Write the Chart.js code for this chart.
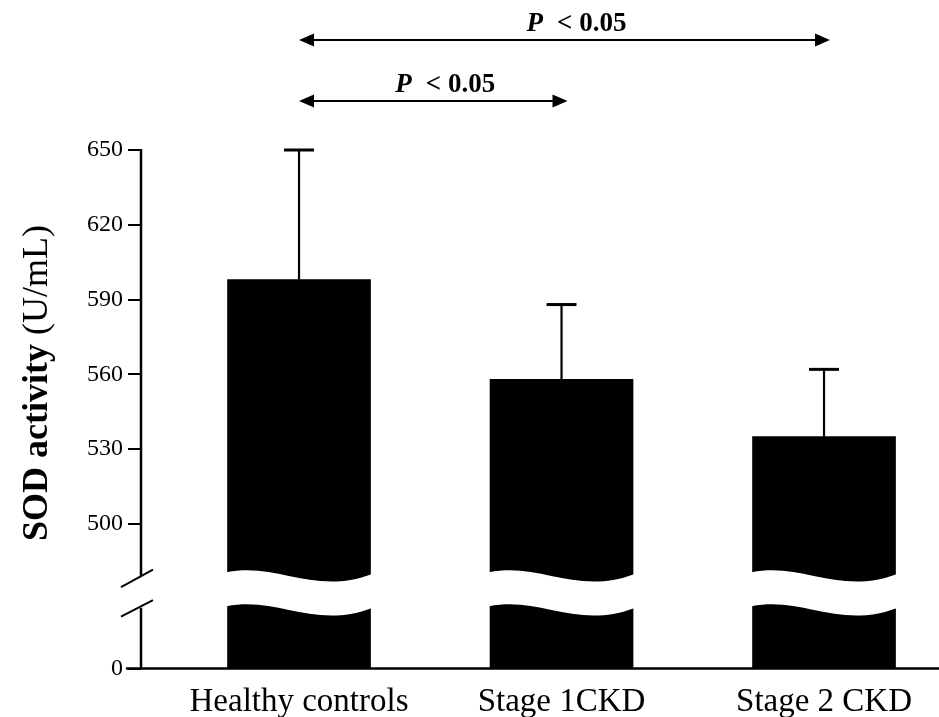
<!DOCTYPE html>
<html>
<head>
<meta charset="utf-8">
<script src="https://cdn.jsdelivr.net/npm/chart.js@4.4.0/dist/chart.umd.min.js"></script>
<style>
  html, body { margin: 0; padding: 0; background: #fff; }
  #wrap { width: 939px; height: 717px; }
</style>
</head>
<body>
<div id="wrap"><canvas id="sod-chart" width="939" height="717"></canvas></div>
<script>
// SOD activity by group (mean and SD, U/mL)
const groups = ['Healthy controls', 'Stage 1CKD', 'Stage 2 CKD'];
const sodMean = [598, 558, 535];
const sodSD = [52, 30, 27];

// y ticks: the axis is broken, so "0" sits just under the break
const yTickValues = [442, 500, 530, 560, 590, 620, 650];
const yTickLabels = ['0', '500', '530', '560', '590', '620', '650'];
const axisZero = 442;
const breakAt = 472;

// pairwise comparisons drawn above the bars
const comparisons = [
  { from: 0, to: 2, label: '< 0.05', y: 40 },
  { from: 0, to: 1, label: '< 0.05', y: 101 }
];

const serif = '"Liberation Serif", "Times New Roman", serif';

function arrowHead(ctx, x, y, dir) {
  ctx.beginPath();
  ctx.moveTo(x, y);
  ctx.lineTo(x - dir * 15, y - 6.5);
  ctx.lineTo(x - dir * 15, y + 6.5);
  ctx.closePath();
  ctx.fill();
}

const decorations = {
  id: 'decorations',
  afterDatasetsDraw(chart) {
    const ctx = chart.ctx;
    const xs = chart.scales.x, ys = chart.scales.y;
    const area = chart.chartArea;
    const meta = chart.getDatasetMeta(0);
    const by = ys.getPixelForValue(breakAt);

    ctx.save();

    // wavy white gap through each bar
    meta.data.forEach(bar => {
      const L = bar.x - bar.width / 2 - 1, R = bar.x + bar.width / 2 + 1, w = R - L;
      ctx.fillStyle = '#fff';
      ctx.beginPath();
      ctx.moveTo(L, by - 21.5);
      ctx.bezierCurveTo(L + 0.35 * w, by - 32, L + 0.6 * w, by + 2, R, by - 19.5);
      ctx.lineTo(R, by + 14.5);
      ctx.bezierCurveTo(L + 0.6 * w, by + 36, L + 0.35 * w, by + 2, L, by + 12.5);
      ctx.closePath();
      ctx.fill();
    });

    // error bars (upper only)
    ctx.strokeStyle = '#000';
    meta.data.forEach((bar, i) => {
      const top = ys.getPixelForValue(sodMean[i] + sodSD[i]);
      ctx.lineWidth = 2.2;
      ctx.beginPath();
      ctx.moveTo(bar.x, bar.y);
      ctx.lineTo(bar.x, top);
      ctx.stroke();
      ctx.lineWidth = 3;
      ctx.beginPath();
      ctx.moveTo(bar.x - 15, top);
      ctx.lineTo(bar.x + 15, top);
      ctx.stroke();
    });

    // axes with the break marks on y
    const ax = area.left;
    ctx.lineWidth = 2.5;
    ctx.beginPath();
    ctx.moveTo(ax, ys.getPixelForValue(650) - 1);
    ctx.lineTo(ax, by - 17.5);
    ctx.moveTo(ax, by + 14);
    ctx.lineTo(ax, area.bottom);
    ctx.moveTo(ax - 15, area.bottom);
    ctx.lineTo(area.right, area.bottom);
    ctx.stroke();
    ctx.lineWidth = 2;
    ctx.beginPath();
    ctx.moveTo(ax - 20, by - 6.5);
    ctx.lineTo(ax + 12, by - 24);
    ctx.moveTo(ax - 20, by + 23);
    ctx.lineTo(ax + 12, by + 6.5);
    ctx.stroke();

    // significance arrows
    ctx.fillStyle = '#000';
    comparisons.forEach(c => {
      const x1 = xs.getPixelForValue(c.from), x2 = xs.getPixelForValue(c.to) + 6;
      ctx.lineWidth = 2;
      ctx.beginPath();
      ctx.moveTo(x1 + 4, c.y);
      ctx.lineTo(x2 - 4, c.y);
      ctx.stroke();
      arrowHead(ctx, x1, c.y, -1);
      arrowHead(ctx, x2, c.y, 1);

      ctx.font = 'italic bold 27px ' + serif;
      const pw = ctx.measureText('P').width;
      ctx.font = 'bold 27px ' + serif;
      const lw = ctx.measureText(c.label).width;
      const gap = 14;
      let tx = (x1 + x2) / 2 + 12 - (pw + gap + lw) / 2;
      ctx.textBaseline = 'alphabetic';
      ctx.textAlign = 'left';
      ctx.font = 'italic bold 27px ' + serif;
      ctx.fillText('P', tx, c.y - 9);
      ctx.font = 'bold 27px ' + serif;
      ctx.fillText(c.label, tx + pw + gap, c.y - 9);
    });

    // y axis title: bold name, plain unit
    ctx.translate(47, 383);
    ctx.rotate(-Math.PI / 2);
    ctx.font = 'bold 36px ' + serif;
    const a = 'SOD activity ';
    const aw = ctx.measureText(a).width;
    ctx.font = '36px ' + serif;
    const b = '(U/mL)';
    const bw = ctx.measureText(b).width;
    let sx = -(aw + bw) / 2;
    ctx.font = 'bold 36px ' + serif;
    ctx.fillText(a, sx, 0);
    ctx.font = '36px ' + serif;
    ctx.fillText(b, sx + aw, 0);

    ctx.restore();
  }
};

new Chart(document.getElementById('sod-chart'), {
  type: 'bar',
  data: {
    datasets: [{
      data: sodMean.map((m, i) => ({ x: i, y: [axisZero, m] })),
      backgroundColor: '#000',
      borderWidth: 0,
      barThickness: 143
    }]
  },
  options: {
    responsive: false,
    animation: false,
    layout: { padding: { top: 150, left: 0, right: 0, bottom: 0 } },
    plugins: { legend: { display: false }, tooltip: { enabled: false } },
    scales: {
      x: {
        type: 'linear',
        offset: false,
        min: -0.602,
        max: 2.438,
        grid: { display: false, offset: false },
        border: { display: false },
        afterFit: s => { s.height = 48.5; },
        afterBuildTicks: s => { s.ticks = groups.map((g, i) => ({ value: i })); },
        ticks: {
          autoSkip: false,
          maxRotation: 0,
          padding: 6,
          color: '#000',
          font: { family: serif, size: 33 },
          callback: v => groups[v]
        }
      },
      y: {
        min: axisZero,
        max: 650,
        grid: { drawOnChartArea: false, drawTicks: true, tickLength: 13, color: '#000', lineWidth: 2 },
        border: { display: false },
        afterFit: s => { s.width = 141; },
        afterBuildTicks: s => { s.ticks = yTickValues.map(v => ({ value: v })); },
        ticks: {
          padding: 5,
          color: '#000',
          font: { family: serif, size: 24 },
          callback: (v, i) => yTickLabels[i]
        }
      }
    }
  },
  plugins: [decorations]
});
</script>
</body>
</html>
